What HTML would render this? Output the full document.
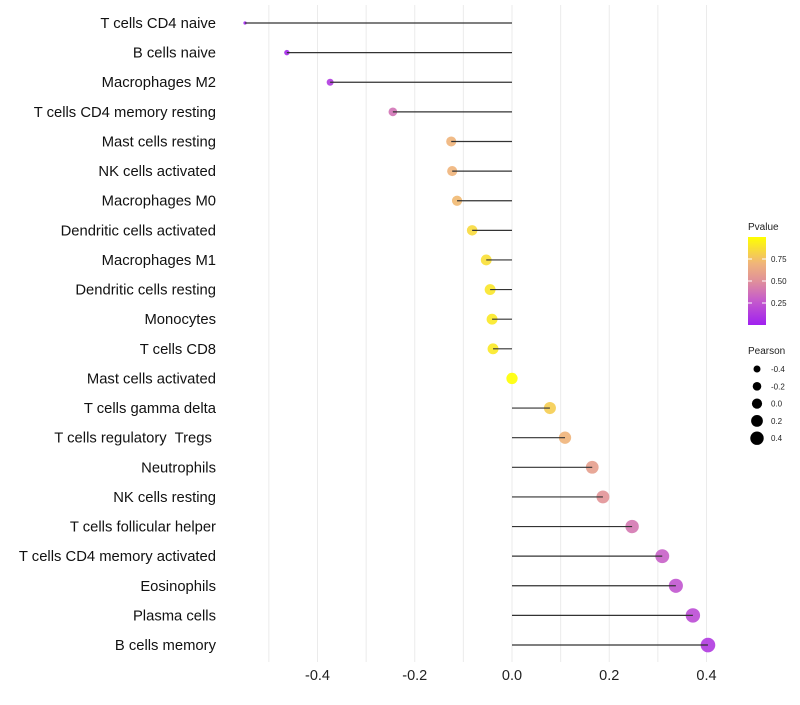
<!DOCTYPE html>
<html><head><meta charset="utf-8"><style>
body{margin:0;background:#fff;font-family:"Liberation Sans",sans-serif}
text{white-space:pre}
</style></head><body>
<svg id="c" width="800" height="700" xmlns="http://www.w3.org/2000/svg">
<defs><linearGradient id="g" x1="0" y1="1" x2="0" y2="0">
<stop offset="0" stop-color="#a020f0"/><stop offset="0.3" stop-color="#c860c8"/><stop offset="0.5" stop-color="#e0909a"/><stop offset="0.7" stop-color="#f0b47a"/><stop offset="1" stop-color="#ffff00"/></linearGradient></defs>
<g id="grid"></g><g id="marks"></g><g id="labels"></g><g id="xt"></g>
<g font-size="9" fill="#222">
<text x="748" y="230" font-size="10">Pvalue</text>
<rect x="748" y="237" width="18" height="88" fill="url(#g)"/>
<g stroke="#fff" stroke-width="1"><line x1="748" y1="259" x2="752" y2="259"/><line x1="762" y1="259" x2="766" y2="259"/><line x1="748" y1="281" x2="752" y2="281"/><line x1="762" y1="281" x2="766" y2="281"/><line x1="748" y1="303" x2="752" y2="303"/><line x1="762" y1="303" x2="766" y2="303"/></g>
<text x="771" y="262" font-size="8">0.75</text><text x="771" y="284" font-size="8">0.50</text><text x="771" y="306" font-size="8">0.25</text>
<text x="748" y="354" font-size="10">Pearson</text>
<g id="sizeleg"></g>
</g>
</svg>
<script>
const categories=["T cells CD4 naive","B cells naive","Macrophages M2","T cells CD4 memory resting","Mast cells resting","NK cells activated","Macrophages M0","Dendritic cells activated","Macrophages M1","Dendritic cells resting","Monocytes","T cells CD8","Mast cells activated","T cells gamma delta","T cells regulatory  Tregs ","Neutrophils","NK cells resting","T cells follicular helper","T cells CD4 memory activated","Eosinophils","Plasma cells","B cells memory"];
const pearson=[-0.549,-0.463,-0.374,-0.245,-0.125,-0.123,-0.113,-0.082,-0.053,-0.045,-0.041,-0.039,0.0,0.078,0.109,0.165,0.187,0.247,0.309,0.337,0.372,0.403];
const pvalues=[0.01,0.04,0.12,0.38,0.7,0.7,0.72,0.85,0.87,0.9,0.91,0.91,1.0,0.8,0.7,0.58,0.52,0.4,0.3,0.25,0.2,0.12];
const xTicks=[-0.4,-0.2,0.0,0.2,0.4];
const sizeLegend=[-0.4,-0.2,0.0,0.2,0.4];
const NS="http://www.w3.org/2000/svg";
const x=v=>512+v*486.25;
const y=i=>23+i*29.62;
const r=v=>7.3*Math.sqrt(Math.max(v+0.6,0));
const rl=v=>5.1+4*v;
function lerp(a,b,t){return a.map((c,k)=>Math.round(c+(b[k]-c)*t));}
const stops=[[0,[160,32,240]],[0.3,[200,96,200]],[0.5,[224,144,154]],[0.7,[240,180,122]],[1,[255,255,0]]];
function col(p){for(let k=1;k<stops.length;k++){if(p<=stops[k][0]){const t=(p-stops[k-1][0])/(stops[k][0]-stops[k-1][0]);return "rgb("+lerp(stops[k-1][1],stops[k][1],t).join(",")+")";}}return "rgb(255,255,0)";}
function mk(t,a,p){const e=document.createElementNS(NS,t);for(const k in a)e.setAttribute(k,a[k]);p.appendChild(e);return e;}
const grid=document.getElementById('grid'),marks=document.getElementById('marks'),labels=document.getElementById('labels'),xt=document.getElementById('xt');
for(let v=-0.5;v<=0.41;v+=0.1){const gl=mk('line',{x1:x(v),x2:x(v),y1:5,y2:662,stroke:'#ebebeb','stroke-width':1},grid);

}
categories.forEach((c,i)=>{
const ln=mk('line',{x1:x(0),x2:x(pearson[i]),y1:y(i),y2:y(i),stroke:'#333','stroke-width':1.2},marks);
const pt=mk('circle',{cx:x(pearson[i]),cy:y(i),r:r(pearson[i]),fill:col(pvalues[i]),'fill-opacity':0.9},marks);
marks.insertBefore(pt,ln);




const t=mk('text',{x:216,y:y(i)+5,'text-anchor':'end','font-size':14.8,fill:'#111'},labels);
t.textContent=c;


});
xTicks.forEach(v=>{const t=mk('text',{x:x(v),y:680,'text-anchor':'middle','font-size':14.5,fill:'#222'},xt);
t.textContent=v.toFixed(1);

});
const sl=document.getElementById('sizeleg');
sizeLegend.forEach((v,i)=>{const yy=369+i*17.3;
const c=mk('circle',{cx:757,cy:yy,r:rl(v),fill:'#000'},sl);


const t=mk('text',{x:771,y:yy+3,'font-size':8},sl);t.textContent=v.toFixed(1);

});
</script>
</body></html>
